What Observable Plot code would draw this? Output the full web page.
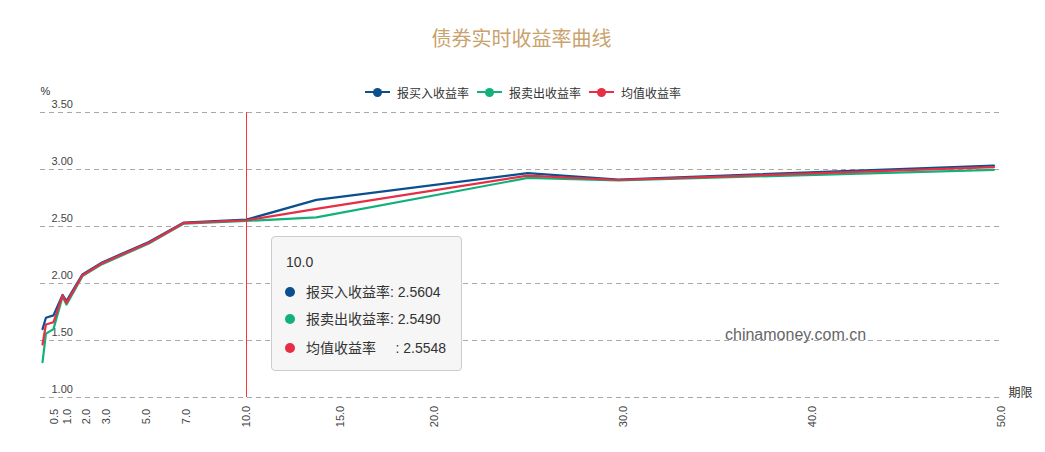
<!DOCTYPE html>
<html><head><meta charset="utf-8">
<script src="https://cdn.jsdelivr.net/npm/d3@7"></script>
<script src="https://cdn.jsdelivr.net/npm/@observablehq/plot@0.6"></script>
<style>
body{margin:0;background:#fff;font-family:"Liberation Sans","Noto Sans CJK SC",sans-serif;}
#wrap{position:relative;width:1045px;height:452px;overflow:hidden;background:#fff}
#wrap svg{position:absolute;left:0;top:0}
.abs{position:absolute;white-space:pre}
.title{left:0;width:1043px;top:26px;text-align:center;font-size:20px;line-height:24px;color:#c9a26c;font-family:"Noto Sans CJK SC",sans-serif}
.leg{top:84px;height:16px;display:flex;align-items:center;font-size:12px;color:#333;font-family:"Noto Sans CJK SC",sans-serif}
.sym{position:relative;width:25px;height:16px;margin-right:7px}
.sym .ln{position:absolute;left:0;right:0;top:7px;height:2px}
.sym .dt{position:absolute;left:7.5px;top:3.5px;width:9px;height:9px;border-radius:50%}
.tip{left:271px;top:236px;width:191px;height:135px;box-sizing:border-box;background:#f6f6f6;border:1px solid #ccc;border-radius:4px;font-size:14px;color:#333}
.tip .t{position:absolute;left:14px;line-height:20px;white-space:pre}
.tip .d{position:absolute;left:13px;width:10px;height:10px;border-radius:50%}
.wm{left:725px;top:325px;font-size:16px;line-height:20px;color:#666}
</style></head><body><div id="wrap"></div>
<script>
const tenors   = [0.04, 0.17, 0.46, 0.81, 0.96, 1.75, 2.74, 5.09, 6.85, 10.0, 13.7, 24.9, 29.7, 49.6];
const bidYield = [1.60, 1.70, 1.72, 1.90, 1.845, 2.08, 2.185, 2.365, 2.535, 2.5604, 2.734, 2.968, 2.912, 3.035];
const askYield = [1.31, 1.56, 1.60, 1.885, 1.815, 2.065, 2.17, 2.35, 2.525, 2.5490, 2.58, 2.926, 2.905, 2.997];
const midYield = [1.465, 1.64, 1.66, 1.895, 1.83, 2.072, 2.178, 2.358, 2.53, 2.5548, 2.655, 2.947, 2.908, 3.02];
const seriesNames  = ["报买入收益率", "报卖出收益率", "均值收益率"];
const seriesColors = ["#0b4f8d", "#13b07a", "#e62e45"];
const yTicks = [1.0, 1.5, 2.0, 2.5, 3.0, 3.5];
const xTicks = [0.5, 1, 2, 3, 5, 7, 10, 15, 20, 30, 40, 50];
const highlightTenor = 10.0;
const tipValues = ["2.5604", "2.5490", "2.5548"];

const rows = [];
[bidYield, askYield, midYield].forEach((arr, i) =>
  arr.forEach((v, j) => rows.push({series: seriesNames[i], tenor: tenors[j], value: v})));

// the tenor axis is stretched a little at the short end (piecewise-linear)
const warp = d3.scaleLinear().domain([0, 1, 10, 50]).range([0, 26, 205, 960]);

const W = 1045, H = 452, ml = 40, mr = 43, mt = 112, mb = 55;
const font = '"Liberation Sans","Noto Sans CJK SC",sans-serif';
const chart = Plot.plot({
  width: W, height: H, marginLeft: ml, marginRight: mr, marginTop: mt, marginBottom: mb,
  style: {fontFamily: font, background: "transparent", overflow: "visible"},
  x: {transform: warp, domain: [warp(0), warp(50)], range: [ml + 1, W - mr - 1], axis: null},
  y: {domain: [1, 3.5], axis: null},
  color: {domain: seriesNames, range: seriesColors},
  marks: [
    Plot.ruleY(yTicks, {stroke: "#a8a8a8", strokeDasharray: "5,4"}),
    Plot.text(yTicks, {y: d => d, frameAnchor: "left", dx: 11, dy: -8, textAnchor: "start",
      text: d => d.toFixed(2), fill: "#444", fontSize: 11}),
    Plot.text(xTicks, {x: d => d, frameAnchor: "bottom", dx: 3, dy: 19, rotate: -90,
      text: d => d.toFixed(1), fill: "#444", fontSize: 11}),
    Plot.ruleX([highlightTenor], {stroke: "#f33", strokeWidth: 1}),
    Plot.line(rows, {x: "tenor", y: "value", z: "series", stroke: "series", strokeWidth: 2.2}),
    Plot.text(["%"], {frameAnchor: "top-left", dy: -25, fill: "#333", fontSize: 11}),
    Plot.text(["期限"], {frameAnchor: "bottom-right", dx: 6, dy: -1, textAnchor: "start",
      fill: "#333", fontSize: 12, fontFamily: '"Noto Sans CJK SC",sans-serif'})
  ]
});
const wrap = document.getElementById("wrap");
wrap.appendChild(chart);

function div(cls, html, style) {
  const d = document.createElement("div");
  d.className = cls;
  if (html != null) d.textContent = html;
  if (style) Object.assign(d.style, style);
  return d;
}
wrap.appendChild(div("abs title", "债券实时收益率曲线"));

const legLefts = [365, 477, 589];
seriesNames.forEach((n, i) => {
  const item = div("abs leg", null, {left: legLefts[i] + "px"});
  const sym = div("sym");
  sym.appendChild(div("ln", null, {background: seriesColors[i]}));
  sym.appendChild(div("dt", null, {background: seriesColors[i]}));
  item.appendChild(sym);
  item.appendChild(div("", n));
  wrap.appendChild(item);
});

wrap.appendChild(div("abs wm", "chinamoney.com.cn"));

const tip = div("abs tip");
tip.appendChild(div("t", highlightTenor.toFixed(1), {top: "15px"}));
const rowTops = [45, 72, 101];
const labels = ["报买入收益率: ", "报卖出收益率: ", "均值收益率     : "];
seriesNames.forEach((n, i) => {
  tip.appendChild(div("d", null, {background: seriesColors[i], top: (rowTops[i] + 5) + "px"}));
  tip.appendChild(div("t", labels[i] + tipValues[i], {top: rowTops[i] + "px", left: "34px"}));
});
wrap.appendChild(tip);
</script></body></html>
